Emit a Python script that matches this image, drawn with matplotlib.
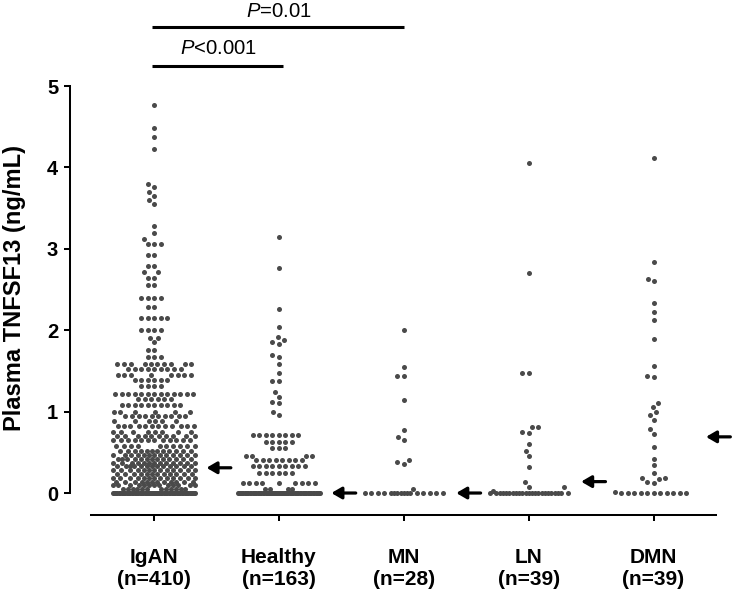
import numpy as np
import matplotlib
matplotlib.use('Agg')
import matplotlib.pyplot as plt

# ---------------- data ----------------
categories = ['IgAN', 'Healthy', 'MN', 'LN', 'DMN']
group_n = [410, 163, 28, 39, 39]

igan_levels = [4.77, 4.49, 4.37, 4.23, 3.79, 3.76, 3.70, 3.65, 3.60, 3.55,
               3.28, 3.20, 3.12, 3.06, 2.92, 2.79, 2.71, 2.645, 2.555,
               2.40, 2.28, 2.15, 2.00, 1.91, 1.85, 1.76, 1.67, 1.58, 1.52,
               1.45, 1.39, 1.31, 1.22, 1.15, 1.08, 1.00, 0.95, 0.88, 0.82,
               0.75, 0.70, 0.65, 0.58, 0.52, 0.47, 0.42, 0.37, 0.33, 0.28,
               0.23, 0.19, 0.14, 0.10, 0.05, 0.00]
igan_counts = [1, 1, 1, 1, 1, 1, 1, 1, 1, 1,
               1, 1, 1, 3, 2, 2, 2, 2, 2,
               4, 2, 5, 4, 2, 1, 2, 3, 10, 9,
               8, 6, 4, 13, 6, 10, 6, 10, 6, 12,
               8, 10, 12, 10, 12, 13, 13, 13, 13, 13,
               12, 13, 12, 13, 12, 82]

healthy_levels = [3.14, 2.76, 2.26, 2.04, 1.92, 1.88, 1.85, 1.83, 1.69, 1.67,
                  1.58, 1.47, 1.38, 1.24, 1.18, 1.12, 1.10, 1.00, 0.96,
                  0.71, 0.63, 0.55, 0.46, 0.40, 0.33, 0.25, 0.12, 0.05, 0.00]
healthy_counts = [1, 1, 1, 1, 1, 1, 1, 1, 1, 1,
                  1, 1, 2, 1, 1, 1, 1, 1, 1,
                  8, 5, 3, 4, 8, 9, 6, 9, 4, 87]

mn_values = [2.00, 1.55, 1.44, 1.44, 1.14, 0.77, 0.69, 0.65, 0.40, 0.38,
             0.36, 0.05] + [0.0] * 16

ln_values = [4.06, 2.70, 1.47, 1.47, 0.81, 0.81, 0.75, 0.74, 0.60, 0.52,
             0.45, 0.32, 0.14, 0.08, 0.07, 0.03] + [0.0] * 23

dmn_values = [4.12, 2.84, 2.63, 2.60, 2.34, 2.22, 2.12, 1.89, 1.56, 1.44,
              1.43, 1.10, 1.06, 0.99, 0.96, 0.90, 0.79, 0.73, 0.57, 0.42,
              0.34, 0.25, 0.18, 0.18, 0.17, 0.14, 0.12, 0.01] + [0.0] * 11

medians = [0.31, 0.0, 0.0, 0.14, 0.69]

yticks = [0, 1, 2, 3, 4, 5]
ylabel = 'Plasma TNFSF13 (ng/mL)'
comparisons = [(0, 1, '$\\mathit{P}$<0.001'), (0, 2, '$\\mathit{P}$=0.01')]

# ---------------- style ----------------
plt.rcParams['font.family'] = ['Liberation Sans', 'DejaVu Sans']
plt.rcParams['mathtext.fontset'] = 'custom'
plt.rcParams['mathtext.rm'] = 'Liberation Sans'
plt.rcParams['mathtext.it'] = 'Liberation Sans:italic'

DOT = '#4a4a4a'

fig = plt.figure(figsize=(7.37, 5.93), dpi=100)
ax = fig.add_axes([91 / 737, 78 / 593, 625 / 737, 429 / 593])
ax.set_xlim(-0.505, 4.5)
ax.set_ylim(-0.27, 5.0)

groups = [np.repeat(igan_levels, igan_counts),
          np.repeat(healthy_levels, healthy_counts),
          np.array(mn_values), np.array(ln_values), np.array(dmn_values)]


def swarm_offsets(vals, xc, diam=6.3, half_w=41.0):
    pts = ax.transData.transform(np.column_stack([np.full(len(vals), xc), vals]))
    ys = pts[:, 1]
    order = np.argsort(vals, kind='stable')
    cand = np.arange(-half_w, half_w + 0.01, 0.5)
    cand = cand[np.argsort(np.abs(cand), kind='stable')]
    px, py = [], []
    offs = np.zeros(len(vals))
    for i in order:
        y = ys[i]
        c = 0.0
        if px:
            ax_ = np.array(px)
            ay_ = np.array(py)
            m = np.abs(ay_ - y) < diam
            if m.any():
                dx = cand[:, None] - ax_[m][None, :]
                dy = (ay_[m] - y)[None, :]
                d = np.sqrt(dx ** 2 + dy ** 2).min(axis=1)
                ok = np.where(d >= diam)[0]
                c = cand[ok[0]] if len(ok) else cand[np.argmax(d)]
        offs[i] = c
        px.append(c)
        py.append(y)
    return pts[:, 0] + offs, ys


inv = ax.transData.inverted()
for i, vals in enumerate(groups):
    xs_px, ys_px = swarm_offsets(vals, i)
    dat = inv.transform(np.column_stack([xs_px, ys_px]))
    ax.scatter(dat[:, 0], dat[:, 1], s=13, color=DOT, linewidths=0,
               clip_on=False, zorder=3)

# median arrows
for i, m in enumerate(medians):
    ax.annotate('', xy=(i + 0.42, m), xytext=(i + 0.615, m),
                arrowprops=dict(arrowstyle='-|>,head_length=0.6,head_width=0.35',
                                lw=2.3, color='black', shrinkA=0, shrinkB=0),
                annotation_clip=False)

# significance bars
bar_y = [5.246, 5.725]
bar_end = [1.03, 2.0]
txt_y = [5.39, 5.85]
for k, (a, b, lab) in enumerate(comparisons):
    ax.plot([a - 0.015, bar_end[k]], [bar_y[k], bar_y[k]], color='black', lw=2.2,
            clip_on=False, solid_capstyle='butt')
    ax.text((a + bar_end[k]) / 2, txt_y[k], lab, ha='center', va='baseline',
            fontsize=14.6)

# axes styling
for s in ['top', 'right']:
    ax.spines[s].set_visible(False)
ax.spines['left'].set_position(('outward', 15.1))
ax.spines['left'].set_bounds(0, 5)
ax.spines['left'].set_linewidth(1.45)
ax.spines['bottom'].set_linewidth(1.45)
ax.set_yticks(yticks)
ax.set_yticklabels([str(t) for t in yticks], fontweight='bold')
ax.set_xticks(range(len(categories)))
ax.set_xticklabels([f'{c}\n(n={n})' for c, n in zip(categories, group_n)],
                   fontweight='bold')
ax.tick_params(axis='y', direction='out', length=4.5, width=1.45, labelsize=14.5, pad=4)
ax.tick_params(axis='x', direction='out', length=4.5, width=1.45, labelsize=15, pad=19)
fig.text(15 / 737, 1 - 288 / 593, ylabel, rotation=90, ha='center', va='center',
         fontsize=17, fontweight='bold')

fig.savefig('out.png', dpi=100)
